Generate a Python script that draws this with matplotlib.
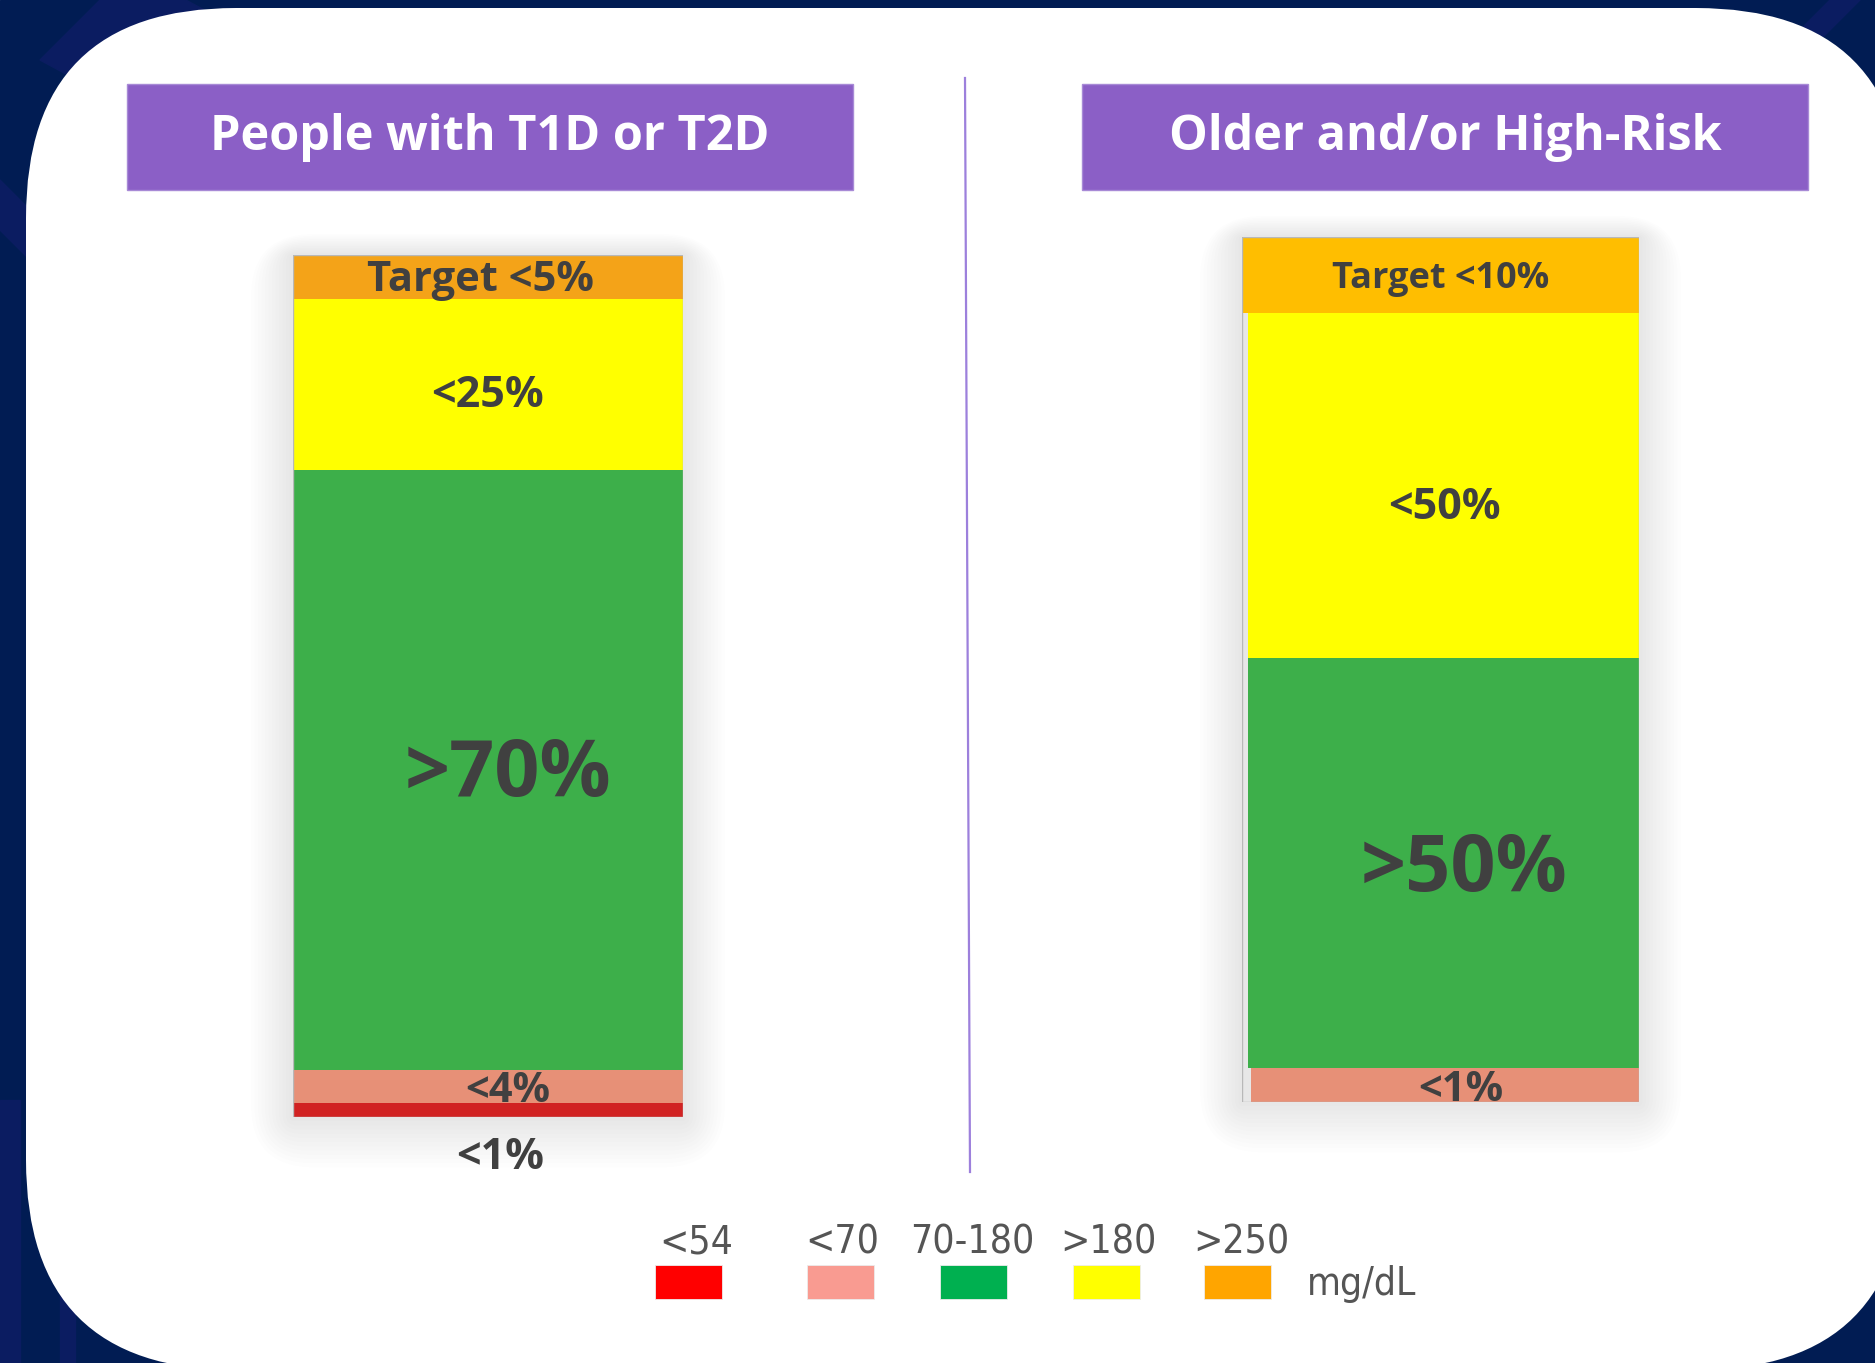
import numpy as np
import matplotlib.pyplot as plt
from matplotlib.patches import FancyBboxPatch, Rectangle, Polygon

# glucose ranges (bottom to top of each stacked bar)
ranges = ['<54', '<70', '70-180', '>180', '>250']
legend_colors = ['#ff0000', '#f99b91', '#00b050', '#ffff00', '#ffa500']

# left panel: people with T1D or T2D
left_title = 'People with T1D or T2D'
left_vals = [1.6, 3.8, 69.6, 19.8, 5.1]
left_labels = ['<1%', '<4%', '>70%', '<25%', 'Target <5%']
left_colors = ['#d12222', '#e79077', '#3daf4a', '#ffff00', '#f4a318']

# right panel: older and/or high-risk
right_title = 'Older and/or High-Risk'
right_vals = [0.0, 3.9, 47.4, 39.9, 8.8]
right_labels = ['', '<1%', '>50%', '<50%', 'Target <10%']
right_colors = ['#d12222', '#e79077', '#3daf4a', '#ffff00', '#ffbe00']

W, H = 1875, 1363
TXT = '#404040'
FONT = 'Open Sans'

fig = plt.figure(figsize=(W / 100, H / 100), dpi=100)
bg = fig.add_axes([0, 0, 1, 1])
bg.set_xlim(0, W)
bg.set_ylim(H, 0)
bg.axis('off')

# navy backdrop with a few faint shapes
bg.add_patch(Rectangle((0, 0), W, H, color='#011c53', zorder=0))
for pts in [[(40, 60), (130, -30), (260, 40), (170, 130)],
            [(0, 1100), (20, 1100), (20, H), (0, H)],
            [(60, 1150), (75, 1150), (75, H), (60, H)],
            [(1790, 40), (1830, 0), (1860, 0), (1815, 45)],
            [(0, 180), (30, 210), (30, 260), (0, 230)]]:
    bg.add_patch(Polygon(pts, closed=True, color='#0b1c61', zorder=0.5))

# white rounded card
bg.add_patch(FancyBboxPatch((26, 8), 1880, 1362,
                            boxstyle='round,pad=0,rounding_size=210',
                            fc='white', ec='none', zorder=1))

# title boxes
for x0, title in [(127, left_title), (1082, right_title)]:
    bg.add_patch(Rectangle((x0, 84), 726, 106, fc='#8b5fc6', ec='#a88ad6',
                           lw=1, zorder=2))
    bg.text(x0 + 363, 137, title, ha='center', va='center', color='white',
            fontsize=35, fontweight='bold', family=FONT, zorder=3)

# divider
bg.plot([965, 970], [78, 1172], color='#9d80dc', lw=1.6, zorder=2)

# soft shadows behind the bars
for (x0, y0, x1, y1) in [(293, 255, 683, 1117), (1242, 237, 1639, 1102)]:
    for k in range(1, 13):
        g = k * 3.5
        bg.add_patch(FancyBboxPatch((x0 - g, y0 - g * 0.5), (x1 - x0) + 2 * g,
                                    (y1 - y0) + g * 1.7,
                                    boxstyle='round,pad=0,rounding_size=%g' % (g * 1.5),
                                    fc='black', ec='none', alpha=0.007,
                                    zorder=1.5))

# legend
leg_x = [655, 807, 940, 1073, 1204]
leg_lx = [696, 842, 972, 1108, 1241]
leg_font = dict(color='#555555', fontsize=28, family='DejaVu Sans',
                fontstretch='condensed', zorder=3)
for x, lx, lab, c in zip(leg_x, leg_lx, ranges, legend_colors):
    bg.add_patch(Rectangle((x, 1265), 67, 34, fc=c, ec='#ececec', lw=0.6,
                           zorder=2))
    bg.text(lx, 1243, lab, ha='center', va='center', **leg_font)
bg.text(1307, 1284, 'mg/dL', ha='left', va='center', **leg_font)


def draw_bar(rect_px, vals, colors, labels, widths, label_pos, sizes):
    x0, y0, x1, y1 = rect_px
    ax = fig.add_axes([x0 / W, 1 - y1 / H, (x1 - x0) / W, (y1 - y0) / H])
    ax.set_xlim(-0.5, 0.5)
    ax.set_ylim(0, sum(vals))
    ax.axis('off')
    ax.patch.set_alpha(0)
    bottoms = np.concatenate([[0], np.cumsum(vals)[:-1]])
    for v, b, c, (lft, rgt) in zip(vals, bottoms, colors, widths):
        if v <= 0:
            continue
        ax.bar((lft + rgt) / 2, v, width=rgt - lft, bottom=b, color=c,
               edgecolor='none')
    ax.add_patch(Rectangle((-0.5, 0), 1, sum(vals), fill=False,
                           ec='#b8b8b8', lw=1.0))
    for v, b, lab, (dx, dy), fs in zip(vals, bottoms, labels, label_pos, sizes):
        if not lab:
            continue
        ax.text(dx, b + v / 2 + dy, lab, ha='center', va='center', color=TXT,
                fontsize=fs, fontweight='bold', family=FONT, clip_on=False)
    return ax


full = (-0.5, 0.5)
draw_bar((293, 255, 683, 1117), left_vals, left_colors, left_labels,
         [full] * 5,
         [(0.03, -5.5), (0.05, -0.5), (0.05, -0.6), (0.0, -1.3), (-0.02, -0.4)],
         [31, 30, 57, 31, 30])
draw_bar((1242, 237, 1639, 1102), right_vals, right_colors, right_labels,
         [full, (-0.477, 0.5), (-0.485, 0.5), (-0.485, 0.5), full],
         [(0, 0), (0.05, -0.6), (0.06, -0.8), (0.01, -2.5), (0.0, -0.4)],
         [30, 30, 57, 31, 26])

fig.savefig('out.png', dpi=100)
